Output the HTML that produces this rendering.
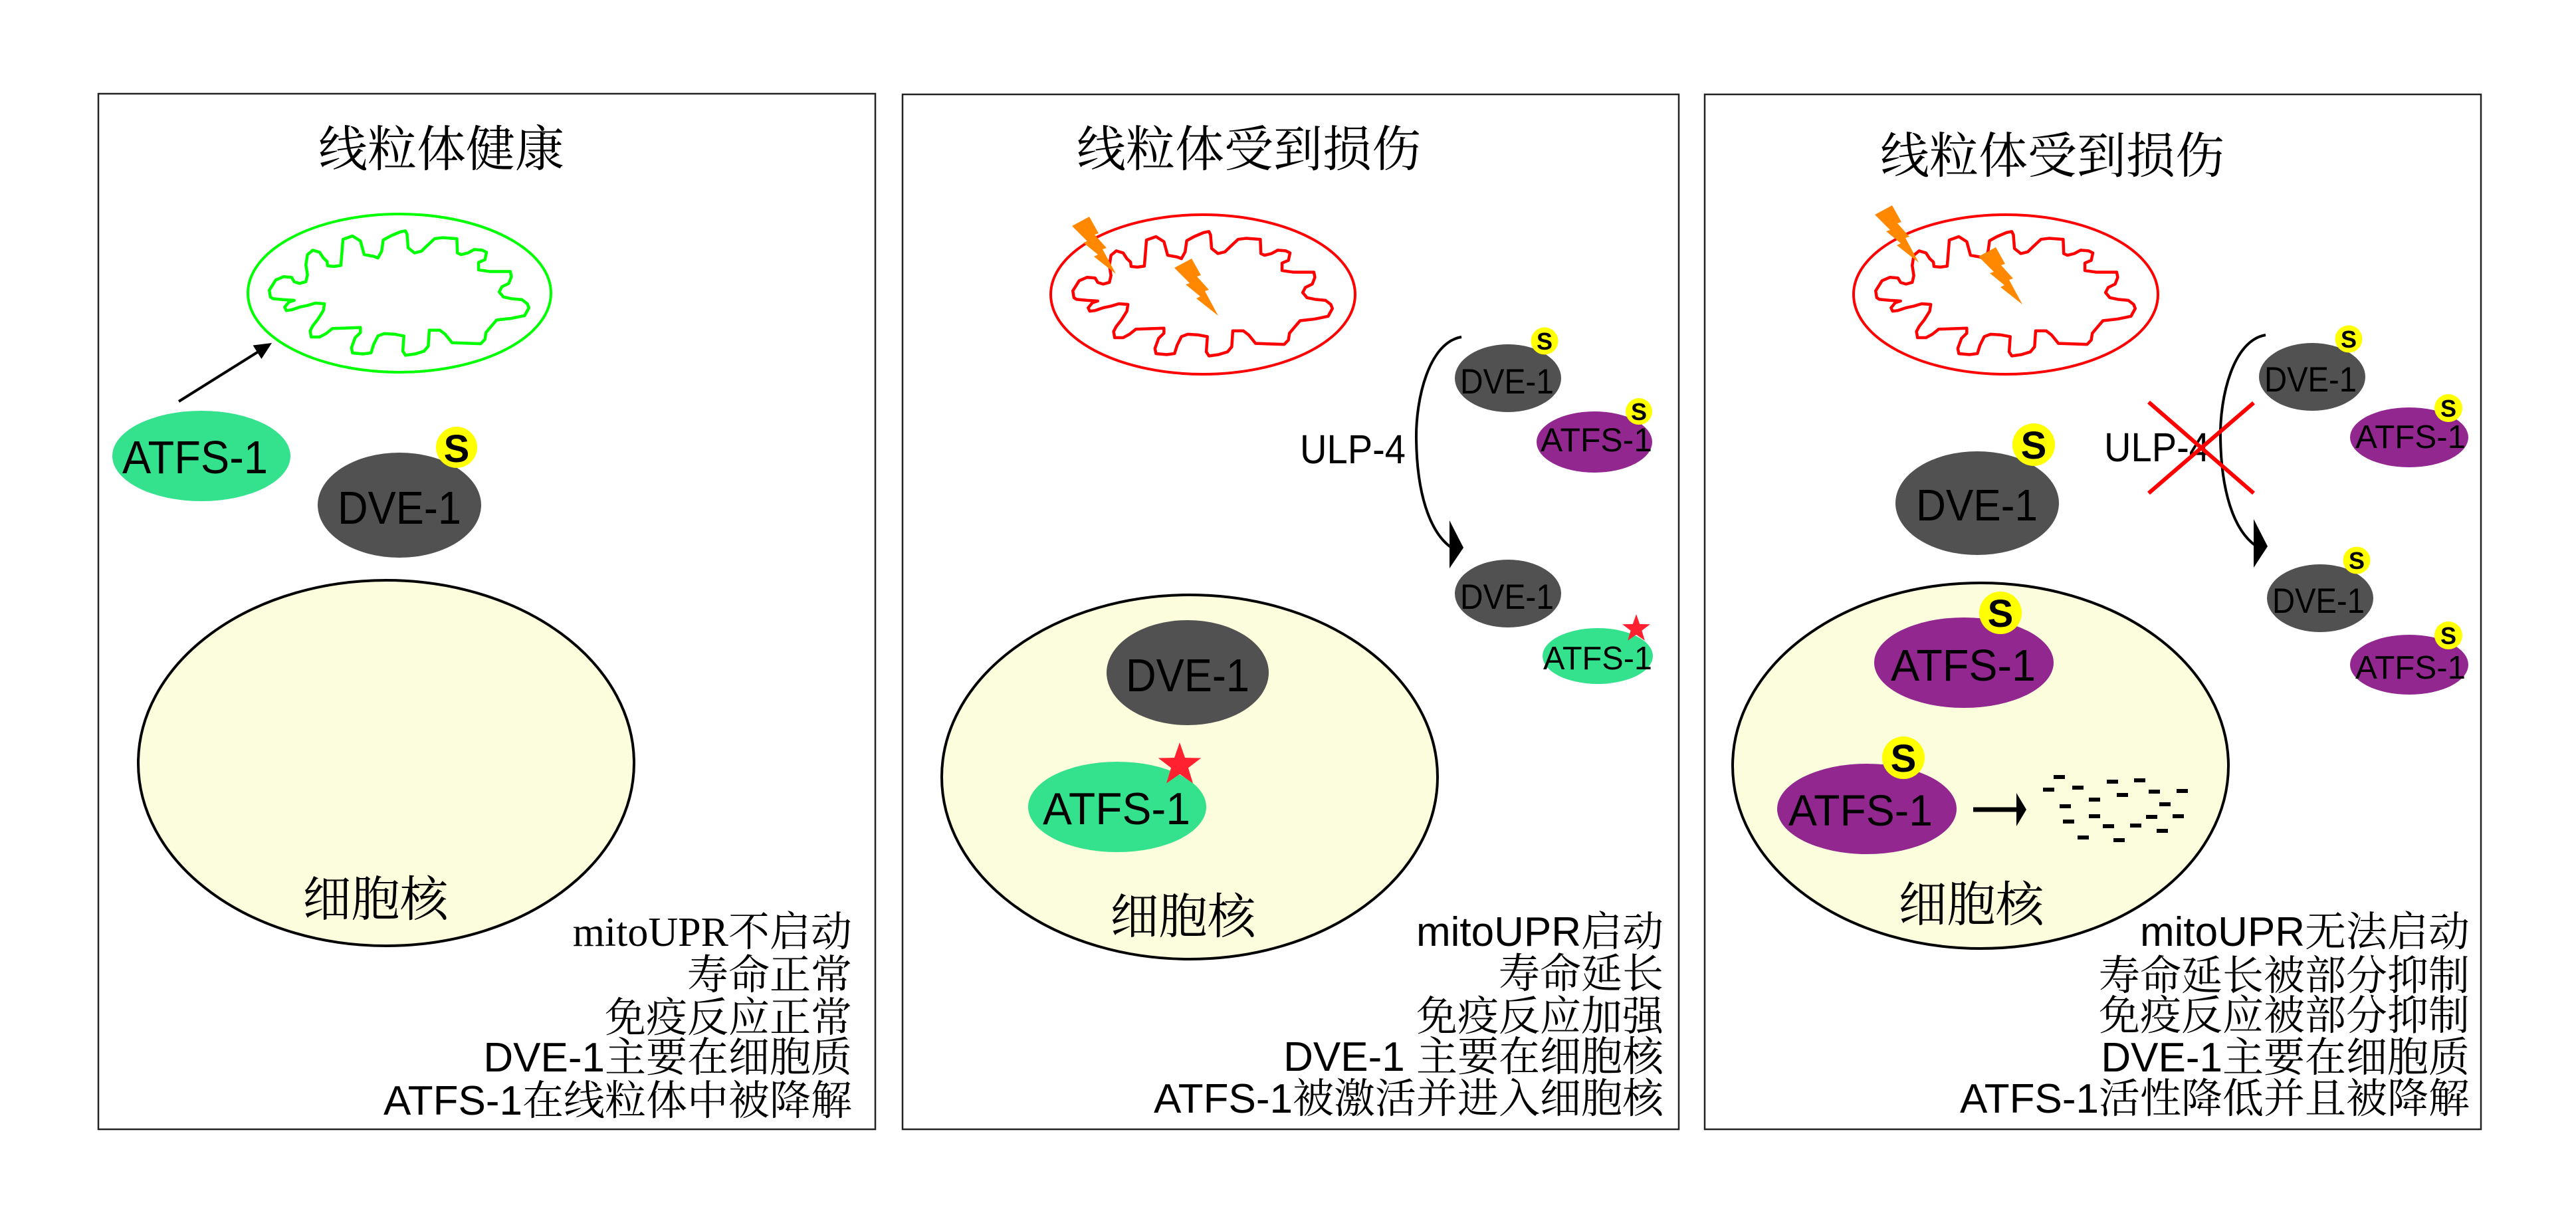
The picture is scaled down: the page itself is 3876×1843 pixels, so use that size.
<!DOCTYPE html>
<html><head><meta charset="utf-8">
<style>
html,body{margin:0;padding:0;background:#fff;}
svg{display:block;}
.t{font-family:"Noto Serif CJK SC","Liberation Serif",serif;fill:#000;}
.l{font-family:"Liberation Sans",Arial,sans-serif;fill:#000;}
.b{font-family:"Liberation Sans","Noto Serif CJK SC",sans-serif;fill:#000;font-size:62px;}
.bs{font-family:"Liberation Serif","Noto Serif CJK SC",serif;fill:#000;font-size:62px;}
.s{font-family:"Liberation Sans",Arial,sans-serif;font-weight:bold;fill:#000;text-anchor:middle;}
</style></head>
<body>
<svg width="3876" height="1843" viewBox="0 0 3876 1843" xmlns="http://www.w3.org/2000/svg">
<defs>
<path id="crista" vector-effect="non-scaling-stroke" style="vector-effect:non-scaling-stroke" stroke-linejoin="round" d="M385,680 L383,660 L395,630 L410,620 L425,622 L430,635 L440,640 L452,635 L455,615 L452,585 L455,555 L465,542 L478,548 L485,565 L492,575 L493,588 L505,590 L518,587 L520,550 L522,510 L540,500 L555,515 L562,555 L580,560 L588,565 L595,545 L598,512 L612,500 L630,488 L640,485 L643,495 L645,535 L657,550 L670,545 L680,530 L695,508 L710,505 L737,508 L738,550 L745,555 L758,550 L770,540 L785,542 L793,548 L790,570 L778,578 L778,600 L800,605 L838,605 L840,620 L835,640 L822,650 L817,665 L825,680 L840,685 L860,688 L870,700 L873,712 L865,735 L840,743 L812,748 L800,770 L792,785 L790,805 L782,818 L728,815 L715,790 L705,778 L685,778 L683,825 L675,840 L658,848 L640,852 L635,840 L637,795 L620,790 L600,788 L588,795 L580,820 L575,845 L560,848 L540,845 L538,830 L545,800 L555,785 L555,770 L502,773 L490,788 L478,798 L462,798 L460,780 L465,765 L475,745 L485,720 L487,700 L470,698 L455,705 L440,710 L425,718 L415,720 L412,710 L420,695 L430,690 L410,688 L390,685 Z"/>
<polygon id="bolt" points="0,14 26,0 40,25 34,27 52,47 46,49 66,86 33,60 39,57 17,39 23,37"/>
</defs>

<!-- Panel boxes -->
<rect x="148" y="141" width="1169" height="1558" fill="none" stroke="#222" stroke-width="2.5"/>
<rect x="1358" y="142" width="1168" height="1557" fill="none" stroke="#222" stroke-width="2.5"/>
<rect x="2565" y="142" width="1168" height="1557" fill="none" stroke="#222" stroke-width="2.5"/>

<!-- ============ PANEL 1 ============ -->
<text class="t" x="664" y="250" font-size="74" text-anchor="middle">线粒体健康</text>
<ellipse cx="601" cy="441" rx="228" ry="119" fill="none" stroke="#00ff00" stroke-width="4"/>
<use href="#crista" transform="translate(100,100) scale(0.797,0.51)" fill="none" stroke="#00ff00" stroke-width="4.5"/>
<line x1="269" y1="604" x2="392" y2="527" stroke="#000" stroke-width="4"/>
<polygon points="409,516 380.6,519.6 393.4,540" fill="#000"/>

<ellipse cx="303" cy="686" rx="134" ry="68" fill="#34e28e"/>
<text class="l" x="184" y="712" font-size="70" textLength="219" lengthAdjust="spacingAndGlyphs">ATFS-1</text>
<ellipse cx="601" cy="760" rx="123" ry="79" fill="#515151"/>
<text class="l" x="508" y="788" font-size="70" textLength="186" lengthAdjust="spacingAndGlyphs">DVE-1</text>
<circle cx="687" cy="673" r="31" fill="#ffff00"/>
<text class="s" x="687" y="695" font-size="58">S</text>

<ellipse cx="581" cy="1148" rx="373" ry="275" fill="#fcfddc" stroke="#000" stroke-width="4"/>
<text class="t" x="565" y="1378" font-size="73" text-anchor="middle">细胞核</text>

<text class="bs" x="1282" y="1423" text-anchor="end">mitoUPR不启动</text>
<text class="b" x="1282" y="1488" text-anchor="end">寿命正常</text>
<text class="b" x="1282" y="1552" text-anchor="end">免疫反应正常</text>
<text class="b" x="1282" y="1612" text-anchor="end">DVE-1主要在细胞质</text>
<text class="b" x="1282" y="1677" text-anchor="end">ATFS-1在线粒体中被降解</text>

<!-- ============ PANEL 2 ============ -->
<text class="t" x="1879" y="250" font-size="74" text-anchor="middle">线粒体受到损伤</text>
<ellipse cx="1810" cy="443" rx="229" ry="120" fill="none" stroke="#ff0000" stroke-width="4"/>
<use href="#crista" transform="translate(1309,101) scale(0.797,0.51)" fill="none" stroke="#ff0000" stroke-width="4.5"/>
<use href="#bolt" transform="translate(1613,326)" fill="#ff8800"/>
<use href="#bolt" transform="translate(1767,389)" fill="#ff8800"/>

<text class="l" x="1956" y="697" font-size="61" textLength="159" lengthAdjust="spacingAndGlyphs">ULP-4</text>
<path d="M2199,507 C2150,515 2130,600 2131,661 C2132,740 2150,800 2184,824" fill="none" stroke="#000" stroke-width="4"/>
<polygon points="2181,783 2181,855 2202,824" fill="#000"/>

<ellipse cx="2269" cy="569" rx="80" ry="51" fill="#515151"/>
<text class="l" x="2197" y="592" font-size="53" textLength="141" lengthAdjust="spacingAndGlyphs">DVE-1</text>
<circle cx="2324" cy="513" r="20.5" fill="#ffff00"/>
<text class="s" x="2324" y="526" font-size="36">S</text>
<ellipse cx="2399" cy="665" rx="87" ry="46" fill="#922790"/>
<text class="l" x="2318" y="679" font-size="50" textLength="168" lengthAdjust="spacingAndGlyphs">ATFS-1</text>
<circle cx="2466" cy="619" r="20" fill="#ffff00"/>
<text class="s" x="2466" y="632" font-size="36">S</text>

<ellipse cx="2269" cy="893" rx="80" ry="51" fill="#515151"/>
<text class="l" x="2197" y="916" font-size="53" textLength="141" lengthAdjust="spacingAndGlyphs">DVE-1</text>
<ellipse cx="2404" cy="987" rx="83" ry="42" fill="#34e28e"/>
<text class="l" x="2322" y="1007" font-size="49" textLength="164" lengthAdjust="spacingAndGlyphs">ATFS-1</text>
<polygon fill="#ff2030" points="2462,924 2467.2,938.9 2482.9,939.2 2470.4,948.8 2474.9,963.8 2462,954.9 2449.1,963.8 2453.6,948.8 2441.1,939.2 2456.8,938.9"/>

<ellipse cx="1790" cy="1169" rx="373" ry="274" fill="#fcfddc" stroke="#000" stroke-width="4"/>
<ellipse cx="1787" cy="1012" rx="122" ry="79" fill="#515151"/>
<text class="l" x="1694" y="1040" font-size="70" textLength="186" lengthAdjust="spacingAndGlyphs">DVE-1</text>
<ellipse cx="1681" cy="1214" rx="134" ry="68" fill="#34e28e"/>
<text class="l" x="1569" y="1240" font-size="68" textLength="222" lengthAdjust="spacingAndGlyphs">ATFS-1</text>
<polygon fill="#ff2030" points="1775,1117 1783,1140 1807.3,1140.5 1787.9,1155.2 1795,1178.5 1775,1164.6 1755,1178.5 1762.1,1155.2 1742.7,1140.5 1767,1140"/>
<text class="t" x="1780" y="1404" font-size="73" text-anchor="middle">细胞核</text>

<text class="b" x="2503" y="1423" text-anchor="end">mitoUPR启动</text>
<text class="b" x="2503" y="1486" text-anchor="end">寿命延长</text>
<text class="b" x="2503" y="1550" text-anchor="end">免疫反应加强</text>
<text class="b" x="2503" y="1611" text-anchor="end">DVE-1 主要在细胞核</text>
<text class="b" x="2503" y="1674" text-anchor="end">ATFS-1被激活并进入细胞核</text>

<!-- ============ PANEL 3 ============ -->
<text class="t" x="3088" y="260" font-size="74" text-anchor="middle">线粒体受到损伤</text>
<ellipse cx="3018" cy="443" rx="229" ry="120" fill="none" stroke="#ff0000" stroke-width="4"/>
<use href="#crista" transform="translate(2517,101) scale(0.797,0.51)" fill="none" stroke="#ff0000" stroke-width="4.5"/>
<use href="#bolt" transform="translate(2821,309)" fill="#ff8800"/>
<use href="#bolt" transform="translate(2977,372)" fill="#ff8800"/>

<ellipse cx="2975" cy="757" rx="123" ry="78" fill="#515151"/>
<text class="l" x="2883" y="783" font-size="67" textLength="183" lengthAdjust="spacingAndGlyphs">DVE-1</text>
<circle cx="3060" cy="669" r="32" fill="#ffff00"/>
<text class="s" x="3060" y="690" font-size="58">S</text>

<text class="l" x="3166" y="694" font-size="61" textLength="159" lengthAdjust="spacingAndGlyphs">ULP-4</text>
<path d="M3409,504 C3360,512 3340,597 3341,658 C3342,737 3360,797 3394,821" fill="none" stroke="#000" stroke-width="4"/>
<polygon points="3391,781 3391,854 3412,822" fill="#000"/>
<line x1="3233" y1="605" x2="3391" y2="742" stroke="#ff0000" stroke-width="6"/>
<line x1="3391" y1="606" x2="3233" y2="742" stroke="#ff0000" stroke-width="6"/>

<ellipse cx="3479" cy="567" rx="80" ry="51" fill="#515151"/>
<text class="l" x="3407" y="589" font-size="53" textLength="139" lengthAdjust="spacingAndGlyphs">DVE-1</text>
<circle cx="3534" cy="510" r="20.5" fill="#ffff00"/>
<text class="s" x="3534" y="523" font-size="36">S</text>
<ellipse cx="3625" cy="658" rx="89" ry="45" fill="#922790"/>
<text class="l" x="3544" y="674" font-size="49" textLength="166" lengthAdjust="spacingAndGlyphs">ATFS-1</text>
<circle cx="3684" cy="614" r="21" fill="#ffff00"/>
<text class="s" x="3684" y="627" font-size="36">S</text>

<ellipse cx="3491" cy="900" rx="80" ry="51" fill="#515151"/>
<text class="l" x="3419" y="922" font-size="53" textLength="139" lengthAdjust="spacingAndGlyphs">DVE-1</text>
<circle cx="3546" cy="843" r="20.5" fill="#ffff00"/>
<text class="s" x="3546" y="856" font-size="36">S</text>
<ellipse cx="3625" cy="1000" rx="89" ry="45" fill="#922790"/>
<text class="l" x="3544" y="1021" font-size="49" textLength="166" lengthAdjust="spacingAndGlyphs">ATFS-1</text>
<circle cx="3684" cy="956" r="21" fill="#ffff00"/>
<text class="s" x="3684" y="969" font-size="36">S</text>

<ellipse cx="2980" cy="1152" rx="373" ry="275" fill="#fcfddc" stroke="#000" stroke-width="4"/>
<ellipse cx="2955" cy="997" rx="135" ry="68" fill="#922790"/>
<text class="l" x="2845" y="1024" font-size="67" textLength="218" lengthAdjust="spacingAndGlyphs">ATFS-1</text>
<circle cx="3010" cy="922" r="32" fill="#ffff00"/>
<text class="s" x="3010" y="943" font-size="58">S</text>
<ellipse cx="2809" cy="1217" rx="135" ry="68" fill="#922790"/>
<text class="l" x="2691" y="1242" font-size="66" textLength="217" lengthAdjust="spacingAndGlyphs">ATFS-1</text>
<circle cx="2864" cy="1140" r="32" fill="#ffff00"/>
<text class="s" x="2864" y="1161" font-size="58">S</text>

<line x1="2969" y1="1218" x2="3038" y2="1218" stroke="#000" stroke-width="7"/>
<polygon points="3034,1193 3034,1243 3049,1218" fill="#000"/>
<g fill="#000">
<rect x="3090" y="1166" width="17" height="6"/>
<rect x="3074" y="1185" width="17" height="6"/>
<rect x="3118" y="1182" width="17" height="6"/>
<rect x="3170" y="1173" width="17" height="6"/>
<rect x="3211" y="1171" width="17" height="6"/>
<rect x="3185" y="1193" width="17" height="6"/>
<rect x="3233" y="1188" width="17" height="6"/>
<rect x="3275" y="1187" width="17" height="6"/>
<rect x="3099" y="1210" width="17" height="6"/>
<rect x="3143" y="1200" width="17" height="6"/>
<rect x="3249" y="1207" width="17" height="6"/>
<rect x="3143" y="1225" width="17" height="6"/>
<rect x="3229" y="1226" width="17" height="6"/>
<rect x="3269" y="1225" width="17" height="6"/>
<rect x="3104" y="1233" width="17" height="6"/>
<rect x="3164" y="1240" width="17" height="6"/>
<rect x="3205" y="1239" width="17" height="6"/>
<rect x="3245" y="1247" width="17" height="6"/>
<rect x="3126" y="1257" width="17" height="6"/>
<rect x="3180" y="1261" width="17" height="6"/>
</g>
<text class="t" x="2966" y="1386" font-size="73" text-anchor="middle">细胞核</text>

<text class="b" x="3716" y="1423" text-anchor="end">mitoUPR无法启动</text>
<text class="b" x="3716" y="1489" text-anchor="end">寿命延长被部分抑制</text>
<text class="b" x="3716" y="1549" text-anchor="end">免疫反应被部分抑制</text>
<text class="b" x="3716" y="1612" text-anchor="end">DVE-1主要在细胞质</text>
<text class="b" x="3716" y="1674" text-anchor="end">ATFS-1活性降低并且被降解</text>
</svg>
</body></html>
